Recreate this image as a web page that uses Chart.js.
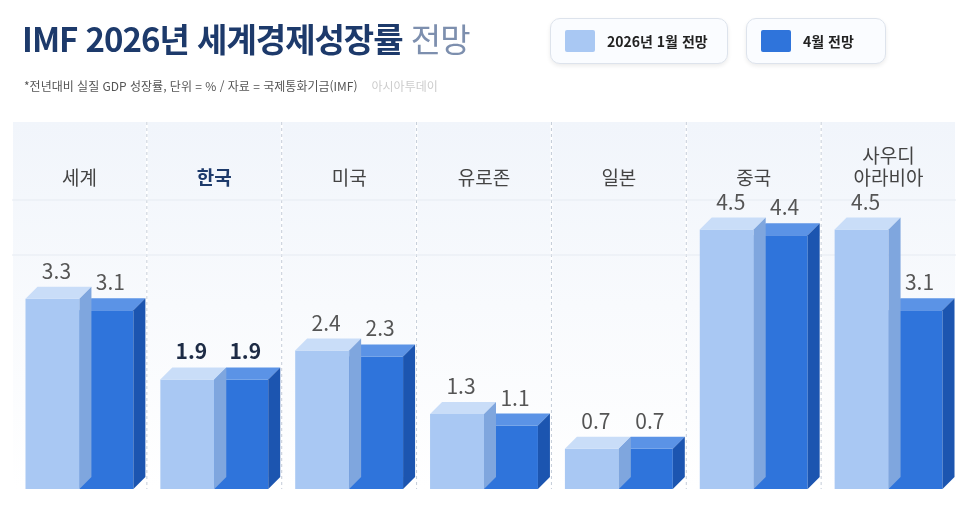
<!DOCTYPE html>
<html lang="ko">
<head>
<meta charset="UTF-8" />
<script src="https://cdn.jsdelivr.net/npm/chart.js"></script>
<style>
  body { margin:0; width:966px; height:519px; overflow:hidden; background:#fff;
         font-family:'Noto Sans CJK KR','Noto Sans',sans-serif; position:relative; }
  #wrap { position:absolute; left:0; top:0; width:966px; height:519px; }
  h1 { position:absolute; left:22px; top:14px; margin:0; font-size:33px; font-weight:700; color:#1d3a6b; letter-spacing:-1px; }
  h1 span { font-weight:400; color:#7d8fae; }
  .sub { position:absolute; left:24px; top:77px; font-size:12px; color:#555; }
  .sub span { color:#ccc; margin-left:14px; }
  .leg { position:absolute; top:18px; height:44px; border:1px solid #dde3ec; border-radius:10px; background:#fafcff;
         display:flex; align-items:center; font-size:14px; font-weight:700; color:#222; box-shadow:0 2px 4px rgba(0,0,0,0.08); }
  .leg i { display:inline-block; width:30px; height:22px; margin:0 12px 0 14px; border-radius:2px; }
</style>
</head>
<body>
<div id="wrap"><canvas id="c"></canvas></div>
<h1>IMF 2026년 세계경제성장률 <span>전망</span></h1>
<div class="sub">*전년대비 실질 GDP 성장률, 단위 = % / 자료 = 국제통화기금(IMF)<span>아시아투데이</span></div>
<div class="leg" style="left:550px;width:176px"><i style="background:#a9c8f3"></i>2026년 1월 전망</div>
<div class="leg" style="left:746px;width:138px"><i style="background:#2f74db"></i>4월 전망</div>
<script>
const categories = [['세계'], ['한국'], ['미국'], ['유로존'], ['일본'], ['중국'], ['사우디', '아라비아']];
const janValues = [3.3, 1.9, 2.4, 1.3, 0.7, 4.5, 4.5];
const aprValues = [3.1, 1.9, 2.3, 1.1, 0.7, 4.4, 3.1];

const frontColors = ['#a9c8f3', '#2f74db'];
const topColors = ['#c9ddf8', '#5b93e6'];
const sideColors = ['#7fa6de', '#1c55b0'];
const depth = 12;

const panels = {
  id: 'panels',
  beforeDraw(chart) {
    const { ctx, chartArea, scales: { x } } = chart;
    const w = x.getPixelForValue(1) - x.getPixelForValue(0);
    ctx.save();
    categories.forEach((c, i) => {
      const cx = x.getPixelForValue(i);
      const g = ctx.createLinearGradient(0, 122, 0, chartArea.bottom);
      g.addColorStop(0, '#f1f5fb'); g.addColorStop(1, '#ffffff');
      ctx.fillStyle = g;
      ctx.fillRect(cx - w / 2 + 1, 122, w - 2, chartArea.bottom - 122);
      if (i > 0) {
        ctx.strokeStyle = '#c4ccd8'; ctx.setLineDash([3, 3]); ctx.lineWidth = 1;
        ctx.beginPath(); ctx.moveTo(cx - w / 2, 122); ctx.lineTo(cx - w / 2, chartArea.bottom); ctx.stroke();
      }
    });
    ctx.setLineDash([]);
    ctx.strokeStyle = '#e6ebf2';
    [200, 255].forEach(y => { ctx.beginPath(); ctx.moveTo(chartArea.left, y); ctx.lineTo(chartArea.right, y); ctx.stroke(); });
    ctx.restore();
  }
};

const bars3d = {
  id: 'bars3d',
  afterDatasetDraw(chart, args) {
    const { ctx } = chart;
    const i = args.index;
    ctx.save();
    args.meta.data.forEach(b => {
      const l = b.x - b.width / 2, r = b.x + b.width / 2;
      ctx.fillStyle = topColors[i];
      ctx.beginPath(); ctx.moveTo(l, b.y); ctx.lineTo(l + depth, b.y - depth);
      ctx.lineTo(r + depth, b.y - depth); ctx.lineTo(r, b.y); ctx.closePath(); ctx.fill();
      ctx.fillStyle = sideColors[i];
      ctx.beginPath(); ctx.moveTo(r, b.y); ctx.lineTo(r + depth, b.y - depth);
      ctx.lineTo(r + depth, b.base - depth); ctx.lineTo(r, b.base); ctx.closePath(); ctx.fill();
    });
    ctx.restore();
  },
  afterDraw(chart) {
    const { ctx } = chart;
    ctx.save();
    ctx.textAlign = 'center';
    chart.data.datasets.forEach((ds, di) => {
      chart.getDatasetMeta(di).data.forEach((b, j) => {
        const bold = j === 1;
        ctx.font = (bold ? '700 ' : '400 ') + '21px "Noto Sans CJK KR", sans-serif';
        ctx.fillStyle = bold ? '#1d2b45' : '#555';
        ctx.fillText(ds.data[j].toFixed(1), b.x + 4, b.y - depth - 8);
      });
    });
    ctx.restore();
  }
};

new Chart(document.getElementById('c'), {
  type: 'bar',
  data: {
    labels: categories,
    datasets: [
      { label: '2026년 1월 전망', data: janValues, backgroundColor: frontColors[0] },
      { label: '4월 전망', data: aprValues, backgroundColor: frontColors[1] }
    ]
  },
  options: {
    responsive: true,
    maintainAspectRatio: false,
    animation: false,
    layout: { padding: { top: 138, left: 12, right: 10, bottom: 30 } },
    categoryPercentage: 0.8,
    barPercentage: 1,
    plugins: { legend: { display: false }, tooltip: { enabled: false } },
    scales: {
      x: {
        position: 'top',
        grid: { display: false }, border: { display: false },
        ticks: {
          color: (c) => c.index === 1 ? '#1d3a6b' : '#444',
          font: (c) => ({ size: 19, weight: c.index === 1 ? '700' : '400', family: '"Noto Sans CJK KR", sans-serif' }),
          padding: 6
        }
      },
      y: { display: false, min: 0, max: 4.95 }
    }
  },
  plugins: [panels, bars3d]
});
</script>
</body>
</html>
